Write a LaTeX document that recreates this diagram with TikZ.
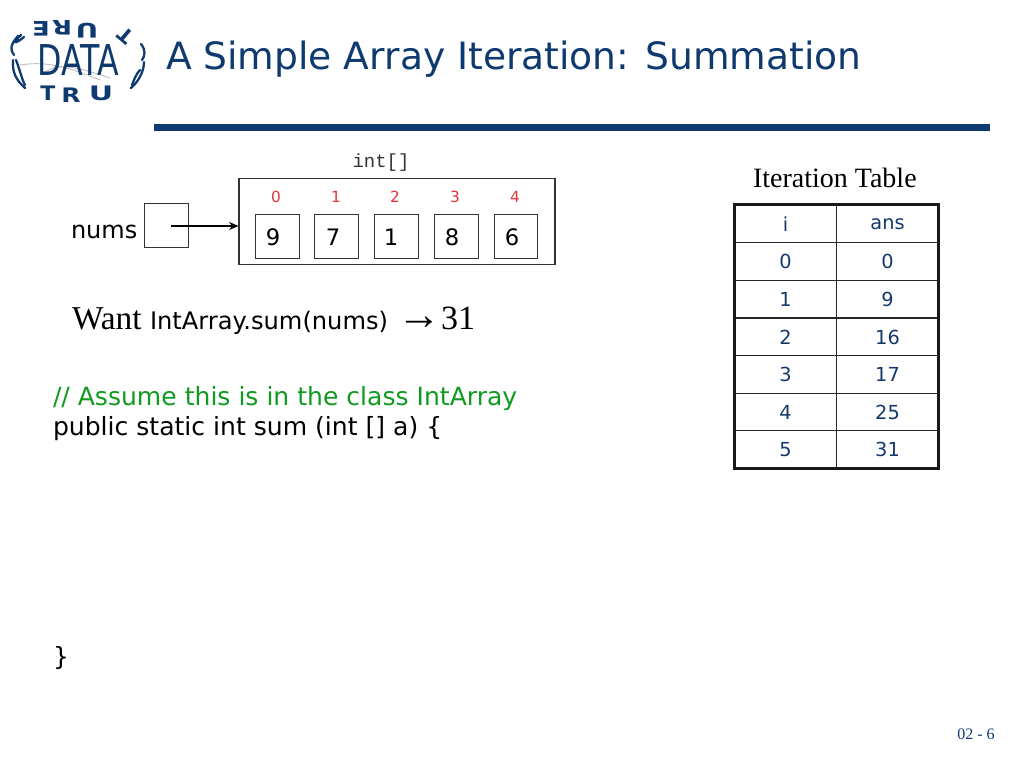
\documentclass[tikz,border=0pt]{standalone}
\usepackage{fontspec}
\usetikzlibrary{arrows.meta}
\setmainfont{Liberation Serif}
\setsansfont{DejaVu Sans}
\setmonofont{Liberation Mono}
\definecolor{navy}{HTML}{0F3A70}
\definecolor{tabblue}{HTML}{14386B}
\definecolor{idxred}{HTML}{E8323C}
\definecolor{codegreen}{HTML}{109A20}
\newcommand{\fs}[1]{\fontsize{#1}{#1}\selectfont}
\tikzset{
  x=0.75pt,y=-0.75pt,
  txt/.style={inner sep=0pt,outer sep=0pt,anchor=base west},
  cen/.style={inner sep=0pt,outer sep=0pt,anchor=base},
  box/.style={draw=black!80,line width=0.8pt,inner sep=0pt,minimum width=32.4pt,minimum height=32.4pt},
  val/.style={cen,font=\sffamily\fs{17},text=black},
  idx/.style={cen,font=\sffamily\fs{11.5},text=idxred},
  cell/.style={draw=black!85,line width=0.8pt,inner sep=0pt,minimum width=76pt,minimum height=28.3pt,font=\sffamily\fs{14.5},text=tabblue},
  code/.style={txt,font=\sffamily\fs{18.8}},
  logol/.style={inner sep=0pt,font=\sffamily\bfseries\fs{15},text=navy},
  logoc/.style={navy,line width=1.7pt,line cap=round},
}
\begin{document}
\begin{tikzpicture}
\useasboundingbox (0,0) rectangle (1024,768);
% logo
\draw[black!25,line width=0.7pt] (20,65) .. controls (50,60) and (75,70) .. (100,80);
\draw[black!25,line width=0.7pt] (45,72) .. controls (60,62) and (80,68) .. (110,78);
\node[inner sep=0pt,font=\sffamily\fs{24.5},text=navy,xscale=0.97,yscale=1.3] (logoD) at (78,60) {DATA};
\node[logol,rotate=180,xscale=1.3] (lE) at (41,29) {E};
\node[logol,rotate=180,xscale=1.3] (lR) at (62,28) {R};
\node[logol,rotate=180,xscale=1.4] (lU) at (87,31) {U};
\node[logol,rotate=140] (lT) at (126,36) {T};
\node[logol,xscale=1.1] (bT) at (48,93) {T};
\node[logol,xscale=1.25] (bR) at (71,95) {R};
\node[logol,xscale=1.5] (bU) at (101,93) {U};
\draw[logoc] (18,36) .. controls (10,45) and (10,50) .. (14,55);
\draw[logoc] (21,35) .. controls (13,42) and (13,46) .. (24,37);
\draw[logoc] (13,60) .. controls (12,72) and (16,80) .. (25,88);
\draw[logoc] (16,60) .. controls (20,70) and (22,80) .. (25,85);
\draw[logoc] (141,44) .. controls (146,50) and (145,56) .. (142,60);
\draw[logoc] (144,62) .. controls (144,72) and (138,82) .. (131,88);
\draw[logoc] (140,70) .. controls (136,74) and (134,80) .. (132,85);
% title
\node[txt,font=\sffamily\fs{28.2},text=navy] (title) at (166,69) {A Simple Array Iteration: Summation};
\fill[navy] (154,124) rectangle (990,131);
\node[cen,font=\ttfamily\fs{14.2},text=black!80] (inttype) at (381,167) {int[]};
% array
\node[draw=black!80,line width=0.8pt,inner sep=0pt,minimum width=237pt,minimum height=64pt] (arr) at (397,221.5) {};
\node[box] (c0) at (277.5,236.5) {};
\node[box] (c1) at (336.5,236.5) {};
\node[box] (c2) at (396.5,236.5) {};
\node[box] (c3) at (456.5,236.5) {};
\node[box] (c4) at (516,236.5) {};
\node[val] (v0) at (273,245) {9};
\node[val] (v1) at (333,245) {7};
\node[val] (v2) at (391,245) {1};
\node[val] (v3) at (452,245) {8};
\node[val] (v4) at (512,245) {6};
\node[idx] (i0) at (276,202) {0};
\node[idx] (i1) at (336,202) {1};
\node[idx] (i2) at (395,202) {2};
\node[idx] (i3) at (455,202) {3};
\node[idx] (i4) at (515,202) {4};
\node[txt,font=\sffamily\fs{18}] (numsl) at (71,238) {nums};
\node[box] (numsb) at (166.5,225.5) {};
\coordinate (ptr) at (171,226);
\draw[-{Stealth[length=7pt,width=6pt]},black,line width=0.8pt] (ptr) -- (ptr -| arr.west);
% want line
\node[txt,font=\rmfamily\fs{25}] (want) at (72,329) {Want};
\node[txt,font=\sffamily\fs{18.1}] (call) at (150,329) {IntArray.sum(nums)};
\node[txt,font=\rmfamily\fs{33}] (arrowsym) at (397,329) {→};
\node[txt,font=\rmfamily\fs{25.5}] (res) at (441,329) {31};
% code
\node[code,text=codegreen] (cm) at (53,405) {// Assume this is in the class IntArray};
\node[code] (sig) at (53,435) {public static int sum (int [] a) \{};
\node[code] (close) at (53,665) {\}};
% table
\node[txt,font=\rmfamily\fs{21}] (ttitle) at (753,187) {Iteration Table};
\foreach \r/\a/\b/\y in {0/i/ans/224,1/0/0/261.5,2/1/9/299,3/2/16/337,4/3/17/374.5,5/4/25/412,6/5/31/449.5}{
  \node[cell] (l\r) at (785.5,\y) {\a};
  \node[cell] (r\r) at (887.5,\y) {\b};
}
\draw[black!90,line width=2.2pt] (l0.north west) rectangle (r6.south east);
% page number
\node[cen,font=\rmfamily\fs{12},text=navy] (pg) at (976,739) {02 - 6};
\end{tikzpicture}
\end{document}
